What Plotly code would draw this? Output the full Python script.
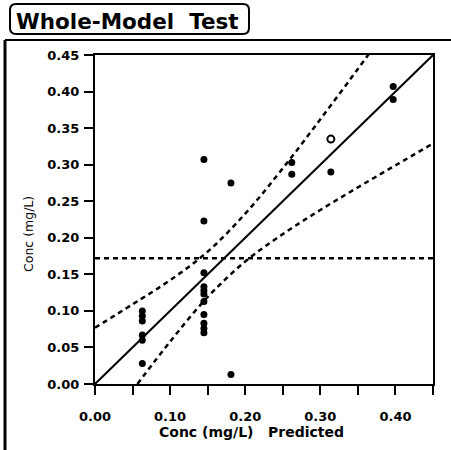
import plotly.graph_objects as go

# Actual concentration vs. predicted concentration (mg/L)
pred_conc = [0.063, 0.063, 0.063, 0.063, 0.063, 0.063,
             0.145, 0.145, 0.145, 0.145, 0.145, 0.145, 0.145, 0.145, 0.145, 0.145, 0.145,
             0.181, 0.181,
             0.262, 0.262,
             0.314,
             0.397, 0.397]
actual_conc = [0.100, 0.093, 0.086, 0.067, 0.060, 0.028,
               0.307, 0.223, 0.152, 0.133, 0.128, 0.123, 0.113, 0.095, 0.083, 0.076, 0.070,
               0.275, 0.013,
               0.303, 0.287,
               0.290,
               0.407, 0.389]

# highlighted (hollow) observation
hollow_pred = [0.314]
hollow_actual = [0.335]

# line of fit (actual = predicted) and mean of the response
fit_x = [0.0, 0.45]
fit_y = [0.0, 0.45]
mean_conc = 0.172

# 95% confidence curves around the line of fit
upper_x = [0.0, 0.05, 0.10, 0.15, 0.20, 0.25, 0.30, 0.35, 0.365]
upper_y = [0.077, 0.109, 0.142, 0.181, 0.233, 0.295, 0.362, 0.431, 0.452]
lower_x = [0.0565, 0.10, 0.15, 0.20, 0.25, 0.30, 0.35, 0.40, 0.45]
lower_y = [0.0, 0.058, 0.119, 0.1675, 0.205, 0.238, 0.269, 0.299, 0.329]

x_tick_vals = [0.0, 0.05, 0.10, 0.15, 0.20, 0.25, 0.30, 0.35, 0.40, 0.45]
x_tick_text = ["0.00", "", "0.10", "", "0.20", "", "0.30", "", "0.40", ""]
y_tick_vals = [0.0, 0.05, 0.10, 0.15, 0.20, 0.25, 0.30, 0.35, 0.40, 0.45]
y_tick_text = ["0.00", "0.05", "0.10", "0.15", "0.20", "0.25", "0.30", "0.35", "0.40", "0.45"]

title_text = "Whole-Model\u00a0\u00a0Test"
x_title = "Conc (mg/L)\u00a0\u00a0\u00a0Predicted"
y_title = "Conc (mg/L)"

W, H = 451, 450
ML, MR, MT, MB = 95, 18, 55, 66
PW, PH = W - ML - MR, H - MT - MB


def px(x):
    return (x - ML) / PW


def py(y):
    return (H - MB - y) / PH


DASH = "5px,4px"
fig = go.Figure()

fig.add_trace(go.Scatter(x=[0, 0.45], y=[mean_conc, mean_conc], mode="lines",
                         line=dict(color="black", width=2.5, dash=DASH)))
fig.add_trace(go.Scatter(x=upper_x, y=upper_y, mode="lines",
                         line=dict(color="black", width=2.5, dash=DASH, shape="spline")))
fig.add_trace(go.Scatter(x=lower_x, y=lower_y, mode="lines",
                         line=dict(color="black", width=2.5, dash=DASH, shape="spline")))
fig.add_trace(go.Scatter(x=fit_x, y=fit_y, mode="lines",
                         line=dict(color="black", width=2)))
fig.add_trace(go.Scatter(x=pred_conc, y=actual_conc, mode="markers",
                         marker=dict(color="black", size=7, symbol="circle")))
fig.add_trace(go.Scatter(x=hollow_pred, y=hollow_actual, mode="markers",
                         marker=dict(color="white", size=7, symbol="circle",
                                     line=dict(color="black", width=2))))

axis_common = dict(
    showline=True, linecolor="black", linewidth=2, mirror=True,
    ticks="outside", ticklen=9, tickwidth=2, tickcolor="black",
    showgrid=False, zeroline=False,
    tickfont=dict(family="DejaVu Sans", size=13, color="black", weight="bold"),
)

fig.update_layout(
    width=W, height=H,
    margin=dict(l=ML, r=MR, t=MT, b=MB),
    paper_bgcolor="white", plot_bgcolor="white",
    showlegend=False,
    xaxis=dict(range=[0, 0.45], tickvals=x_tick_vals, ticktext=x_tick_text,
               ticklabelstandoff=10, **axis_common),
    yaxis=dict(range=[0, 0.45], tickvals=y_tick_vals, ticktext=y_tick_text,
               ticklabelstandoff=2, **axis_common),
)

# panel frame: top rule and heavy left rule
fig.add_shape(type="line", xref="paper", yref="paper",
              x0=px(5), x1=px(451), y0=py(40), y1=py(40),
              line=dict(color="black", width=2))
fig.add_shape(type="line", xref="paper", yref="paper",
              x0=px(5), x1=px(5), y0=py(40), y1=py(450),
              line=dict(color="black", width=3))

# rounded title box
bx0, bx1, by0, by1, r = 10, 249, 4, 34, 6
path = (f"M {px(bx0 + r)},{py(by0)} L {px(bx1 - r)},{py(by0)} "
        f"Q {px(bx1)},{py(by0)} {px(bx1)},{py(by0 + r)} "
        f"L {px(bx1)},{py(by1 - r)} Q {px(bx1)},{py(by1)} {px(bx1 - r)},{py(by1)} "
        f"L {px(bx0 + r)},{py(by1)} Q {px(bx0)},{py(by1)} {px(bx0)},{py(by1 - r)} "
        f"L {px(bx0)},{py(by0 + r)} Q {px(bx0)},{py(by0)} {px(bx0 + r)},{py(by0)} Z")
fig.add_shape(type="path", xref="paper", yref="paper", path=path,
              line=dict(color="black", width=2))

fig.add_annotation(text=title_text, xref="paper", yref="paper",
                   x=px(127), y=py(21), xanchor="center", yanchor="middle",
                   showarrow=False,
                   font=dict(family="DejaVu Sans", size=21.5, color="black", weight="bold"))
fig.add_annotation(text=x_title, xref="paper", yref="paper",
                   x=px(251), y=py(432), xanchor="center", yanchor="middle",
                   showarrow=False,
                   font=dict(family="DejaVu Sans", size=14, color="black", weight="bold"))
fig.add_annotation(text=y_title, xref="paper", yref="paper",
                   x=px(28), y=py(234), xanchor="center", yanchor="middle",
                   textangle=-90, showarrow=False,
                   font=dict(family="DejaVu Sans", size=12.5, color="black"))

fig.write_html("out.html")
